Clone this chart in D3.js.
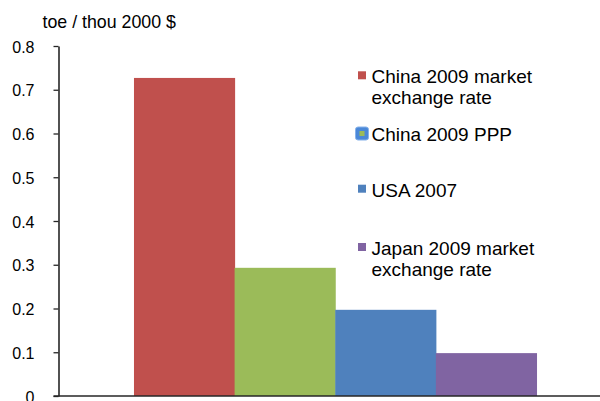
<!DOCTYPE html>
<html>
<head>
<meta charset="utf-8">
<script src="https://cdn.jsdelivr.net/npm/d3@7/dist/d3.min.js"></script>
<style>
  html, body { margin: 0; padding: 0; background: #fff; }
  svg { display: block; font-family: "Liberation Sans", Arial, sans-serif; }
</style>
</head>
<body>
<svg id="chart" width="600" height="401"></svg>
<script>
// Energy intensity, tonnes of oil equivalent per thousand 2000 dollars
const seriesNames = [
  "China 2009 market exchange rate",
  "China 2009 PPP",
  "USA 2007",
  "Japan 2009 market exchange rate"
];
const legendLines = [
  ["China 2009 market", "exchange rate"],
  ["China 2009 PPP"],
  ["USA 2007"],
  ["Japan 2009 market", "exchange rate"]
];
const values = [0.727, 0.293, 0.197, 0.098];
const colors = ["#C0504D", "#9BBB59", "#4F81BD", "#8064A2"];
const yTicks = [0, 0.1, 0.2, 0.3, 0.4, 0.5, 0.6, 0.7, 0.8];
const yTitle = "toe / thou 2000 $";

const svg = d3.select("#chart");

// plot area
const plot = { left: 58.5, right: 612, top: 46, bottom: 396 };
const gapWidth = 1.5; // gap between category groups, as a fraction of one bar

const y = d3.scaleLinear().domain([0, 0.8]).range([plot.bottom, plot.top]);

// one category holding four side-by-side bars
const barW = (plot.right - plot.left) / (seriesNames.length + gapWidth);
const groupStart = plot.left + barW * gapWidth / 2;
const x = d3.scaleBand()
  .domain(seriesNames)
  .range([groupStart, groupStart + barW * seriesNames.length])
  .paddingInner(0).paddingOuter(0);

// bars
svg.append("g")
  .selectAll("rect")
  .data(seriesNames)
  .join("rect")
  .attr("x", d => x(d))
  .attr("width", x.bandwidth() + 0.5)
  .attr("y", (d, i) => y(values[i]))
  .attr("height", (d, i) => y(0) - y(values[i]))
  .attr("fill", (d, i) => colors[i]);

// value axis
const yAxis = d3.axisLeft(y)
  .tickValues(yTicks)
  .tickSize(5)
  .tickSizeOuter(0)
  .tickPadding(19)
  .tickFormat(d => d === 0 ? "0" : d3.format(".1f")(d));

const gy = svg.append("g")
  .attr("transform", `translate(${plot.left},0)`)
  .call(yAxis);
gy.select(".domain").attr("stroke", "#262626").attr("stroke-width", 1.6);
gy.selectAll(".tick line").attr("stroke", "#262626").attr("stroke-width", 1.3);
gy.selectAll(".tick text")
  .attr("font-size", 16)
  .attr("font-family", "Liberation Sans, Arial, sans-serif")
  .attr("fill", "#000")
  .attr("dy", "0.38em");

// category axis line along zero
svg.append("line")
  .attr("x1", plot.left - 5)
  .attr("x2", plot.right)
  .attr("y1", y(0))
  .attr("y2", y(0))
  .attr("stroke", "#262626")
  .attr("stroke-width", 1.6);

// axis title
svg.append("text")
  .attr("x", 42.5)
  .attr("y", 27.5)
  .attr("font-size", 17.8)
  .attr("fill", "#000")
  .text(yTitle);

// legend
const legendX = 371.5;
const legendBaselines = [83.3, 140.5, 196.7, 255];
const lineGap = 20.7;

const legend = svg.append("g");
seriesNames.forEach((name, i) => {
  const g = legend.append("g");
  const by = legendBaselines[i];
  if (i === 1) {
    // this entry's key is drawn highlighted: rounded blue frame around a small swatch
    g.append("rect")
      .attr("x", 355.5).attr("y", by - 13.5)
      .attr("width", 13).attr("height", 13)
      .attr("rx", 2.5)
      .attr("fill", "#4A88D8")
      .attr("stroke", "#86B2EA")
      .attr("stroke-width", 1);
    g.append("rect")
      .attr("x", 359.5).attr("y", by - 9.5)
      .attr("width", 5).attr("height", 5)
      .attr("fill", colors[i]);
  } else {
    g.append("rect")
      .attr("x", 358).attr("y", by - 12)
      .attr("width", 8).attr("height", 8)
      .attr("fill", colors[i]);
  }
  const t = g.append("text")
    .attr("font-size", 19)
    .attr("fill", "#000");
  legendLines[i].forEach((ln, k) => {
    t.append("tspan")
      .attr("x", legendX)
      .attr("y", by + k * lineGap)
      .text(ln);
  });
});
</script>
</body>
</html>
